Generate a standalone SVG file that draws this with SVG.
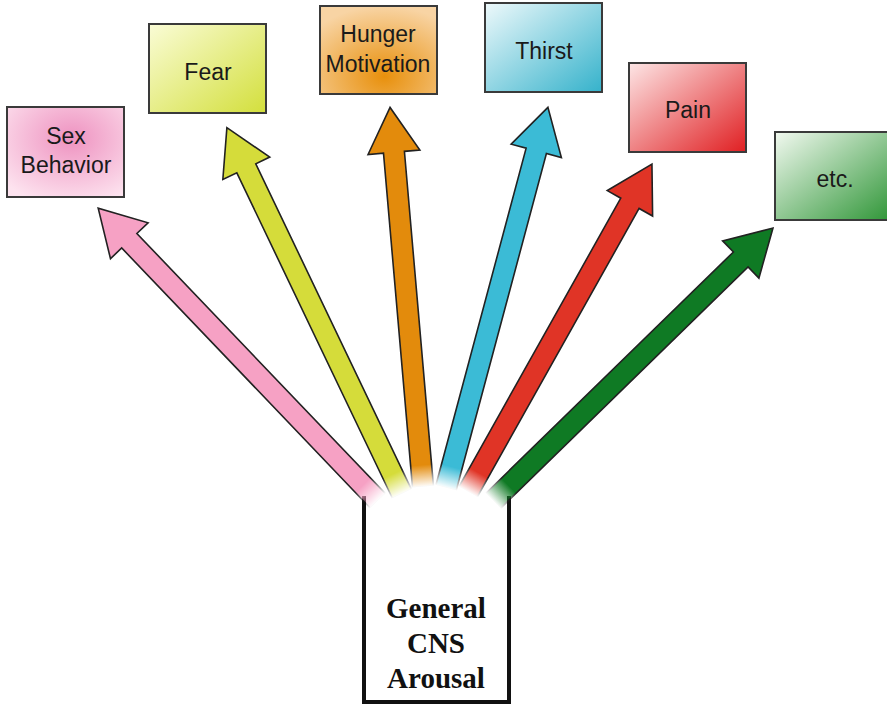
<svg xmlns="http://www.w3.org/2000/svg" width="887" height="704" viewBox="0 0 887 704">
<defs>
<style>
.box{stroke:#3a3a3a;stroke-width:2}
.lbl{font-family:"Liberation Sans",Arial,sans-serif;font-size:23px;fill:#1a1a1a;text-anchor:middle}
.cns{font-family:"Liberation Serif","Times New Roman",serif;font-size:29px;font-weight:bold;fill:#111;text-anchor:middle}
.arr{stroke:#222;stroke-width:1.6;stroke-linejoin:miter}
</style>
<radialGradient id="gSex" cx="0.55" cy="0.35" r="0.75">
<stop offset="0" stop-color="#ee92c0"/><stop offset="1" stop-color="#fde3ef"/>
</radialGradient>
<linearGradient id="gFear" x1="0" y1="0" x2="1" y2="1">
<stop offset="0" stop-color="#fafcd6"/><stop offset="1" stop-color="#d3df3c"/>
</linearGradient>
<radialGradient id="gHunger" cx="0.55" cy="0.8" r="0.8">
<stop offset="0" stop-color="#e8900c"/><stop offset="1" stop-color="#f8d4a4"/>
</radialGradient>
<linearGradient id="gThirst" x1="0" y1="0" x2="1" y2="1">
<stop offset="0" stop-color="#eef9fb"/><stop offset="1" stop-color="#35b2cb"/>
</linearGradient>
<linearGradient id="gPain" x1="0" y1="0" x2="1" y2="1">
<stop offset="0" stop-color="#fde6e6"/><stop offset="1" stop-color="#e01f22"/>
</linearGradient>
<linearGradient id="gEtc" x1="0" y1="0" x2="1" y2="1">
<stop offset="0" stop-color="#f2f9f0"/><stop offset="1" stop-color="#2f9637"/>
</linearGradient>
<linearGradient id="fade" gradientUnits="userSpaceOnUse" x1="0" y1="0" x2="22" y2="0">
<stop offset="0" stop-color="#000"/><stop offset="1" stop-color="#fff"/>
</linearGradient>
<mask id="tailFade" maskUnits="userSpaceOnUse" maskContentUnits="userSpaceOnUse" x="-20" y="-60" width="1000" height="120">
<rect x="-20" y="-60" width="1000" height="120" fill="url(#fade)"/>
</mask>
</defs>
<rect width="887" height="704" fill="#fff"/>

<g id="cns">
<path d="M364,496 V702 H509 V496" fill="#fff" stroke="#111" stroke-width="4"/>
<text class="cns" x="436" y="618">General</text>
<text class="cns" x="436" y="653">CNS</text>
<text class="cns" x="436" y="688">Arousal</text>
</g>

<g id="connectors">
<g id="arrow-sex" transform="translate(378,501) rotate(-133.7)"><path class="arr" mask="url(#tailFade)" fill="#f6a1c4" d="M0,-10.5 H360 V-26 L405,0 L360,26 V10.5 H0 Z"/></g>
<g id="arrow-fear" transform="translate(402,494) rotate(-115.55)"><path class="arr" mask="url(#tailFade)" fill="#d5dc3a" d="M0,-10.5 H361 V-26 L406,0 L361,26 V10.5 H0 Z"/></g>
<g id="arrow-hunger" transform="translate(423,487) rotate(-94.96)"><path class="arr" mask="url(#tailFade)" fill="#e38b0c" d="M0,-10.5 H336 V-26 L381,0 L336,26 V10.5 H0 Z"/></g>
<g id="arrow-thirst" transform="translate(446,488) rotate(-75.01)"><path class="arr" mask="url(#tailFade)" fill="#3bbbd6" d="M0,-10.5 H349 V-26 L394,0 L349,26 V10.5 H0 Z"/></g>
<g id="arrow-pain" transform="translate(468,492) rotate(-60.71)"><path class="arr" mask="url(#tailFade)" fill="#e03426" d="M0,-10.5 H331 V-26 L376,0 L331,26 V10.5 H0 Z"/></g>
<g id="arrow-etc" transform="translate(493,501) rotate(-44.27)"><path class="arr" mask="url(#tailFade)" fill="#0f7a24" d="M0,-10.5 H346 V-26 L391,0 L346,26 V10.5 H0 Z"/></g>
</g>

<g id="sex"><rect class="box" x="7" y="107" width="117" height="90" fill="url(#gSex)"/>
<text class="lbl" x="66" y="144">Sex</text><text class="lbl" x="66" y="173">Behavior</text></g>
<g id="fear"><rect class="box" x="149" y="24" width="117" height="89" fill="url(#gFear)"/>
<text class="lbl" x="208" y="80">Fear</text></g>
<g id="hunger"><rect class="box" x="320" y="6" width="117" height="88" fill="url(#gHunger)"/>
<text class="lbl" x="378" y="42">Hunger</text><text class="lbl" x="378" y="72">Motivation</text></g>
<g id="thirst"><rect class="box" x="485" y="3" width="117" height="89" fill="url(#gThirst)"/>
<text class="lbl" x="544" y="59">Thirst</text></g>
<g id="pain"><rect class="box" x="629" y="63" width="117" height="89" fill="url(#gPain)"/>
<text class="lbl" x="688" y="118">Pain</text></g>
<g id="etc"><rect class="box" x="775" y="132" width="117" height="88" fill="url(#gEtc)"/>
<text class="lbl" x="835" y="187">etc.</text></g>
</svg>
